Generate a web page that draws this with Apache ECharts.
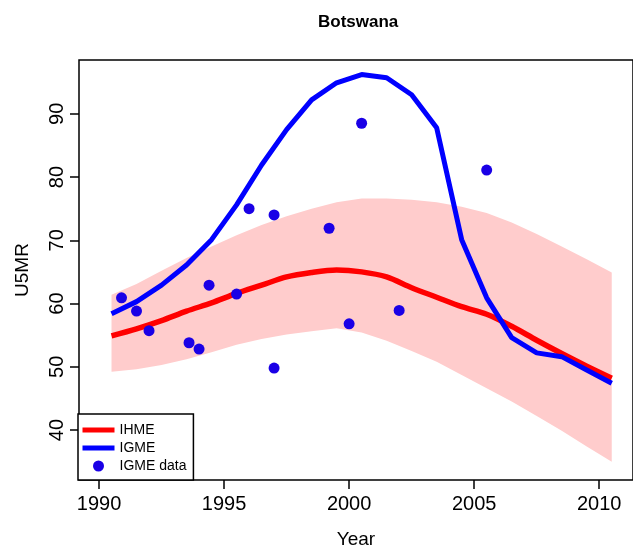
<!DOCTYPE html>
<html>
<head>
<meta charset="utf-8">
<script src="https://cdn.jsdelivr.net/npm/echarts@6/dist/echarts.min.js"></script>
<style>
  html, body { margin: 0; padding: 0; background: #fff; }
  #chart { width: 633px; height: 557px; }
</style>
</head>
<body>
<div id="chart"></div>
<script>
// yearly estimates (mid-year)
const years = [1990.5, 1991.5, 1992.5, 1993.5, 1994.5, 1995.5, 1996.5, 1997.5, 1998.5, 1999.5, 2000.5,
  2001.5, 2002.5, 2003.5, 2004.5, 2005.5, 2006.5, 2007.5, 2008.5, 2009.5, 2010.5];
const ihme = [54.9, 56.0, 57.3, 58.8, 60.1, 61.6, 62.9, 64.2, 64.9, 65.3, 65.0,
  64.2, 62.5, 61.0, 59.5, 58.3, 56.4, 54.2, 52.1, 50.1, 48.2];
const ihmeLower = [49.2, 49.6, 50.3, 51.2, 52.3, 53.5, 54.4, 55.1, 55.6, 56.1, 55.4,
  54.1, 52.5, 50.8, 48.7, 46.6, 44.5, 42.2, 39.9, 37.4, 35.0];
const ihmeUpper = [61.4, 63.1, 65.2, 67.2, 69.0, 70.8, 72.4, 73.8, 75.0, 76.0, 76.6,
  76.6, 76.4, 76.0, 75.3, 74.3, 72.8, 71.0, 69.0, 67.0, 64.9];
const igme = [58.4, 60.3, 62.9, 66.1, 70.1, 75.6, 81.9, 87.5, 92.2, 94.9, 96.2,
  95.7, 93.0, 87.8, 70.1, 60.9, 54.6, 52.2, 51.6, 49.5, 47.4];

// IGME survey data points
const dataYears = [1990.9, 1991.5, 1992.0, 1993.6, 1994.0, 1994.4, 1995.5, 1996.0, 1997.0, 1997.0,
  1999.2, 2000.0, 2000.5, 2002.0, 2005.5];
const dataValues = [60.9, 58.8, 55.7, 53.8, 52.8, 62.9, 61.5, 75.0, 74.0, 49.8,
  71.9, 56.8, 88.5, 58.9, 81.1];

const xTicks = [1990, 1995, 2000, 2005, 2010];
const yTicks = [40, 50, 60, 70, 80, 90];

const font = "'Liberation Sans', Arial, sans-serif";
const pair = (xs, ys) => xs.map((x, i) => [x, ys[i]]);

const chart = echarts.init(document.getElementById('chart'));
const option = {
  animation: false,
  title: {
    text: 'Botswana',
    left: 313,
    top: 9,
    textStyle: { fontFamily: font, fontWeight: 'bold', fontSize: 17, color: '#000' }
  },
  grid: {
    left: 79, top: 60, right: -3, bottom: 77,
    show: true, borderColor: '#000', borderWidth: 1.5, backgroundColor: 'transparent'
  },
  legend: {
    orient: 'vertical',
    left: 78, top: 414,
    data: [
      { name: 'IHME', itemStyle: { opacity: 0 } },
      { name: 'IGME', itemStyle: { opacity: 0 } },
      { name: 'IGME data', icon: 'circle' }
    ],
    itemWidth: 32, itemHeight: 11, itemGap: 4,
    padding: [9, 7, 7, 2],
    lineStyle: { width: 5 },
    backgroundColor: '#fff', borderColor: '#000', borderWidth: 1.5, borderRadius: 0,
    textStyle: { fontFamily: font, fontSize: 14, color: '#000' }
  },
  xAxis: {
    type: 'value',
    min: 1989.2, max: 2011.35,
    name: 'Year', nameLocation: 'middle', nameGap: 50,
    nameTextStyle: { fontFamily: font, fontSize: 19, color: '#000' },
    axisLine: { show: false },
    splitLine: { show: false },
    axisTick: { show: true, length: 9, customValues: xTicks, lineStyle: { color: '#000', width: 1.5 } },
    axisLabel: {
      customValues: xTicks, fontFamily: font, fontSize: 20, color: '#000', margin: 14,
      formatter: (v) => String(v)
    }
  },
  yAxis: {
    type: 'value',
    min: 32.1, max: 98.5,
    name: 'U5MR', nameLocation: 'middle', nameGap: 47, nameRotate: 90,
    nameTextStyle: { fontFamily: font, fontSize: 19, color: '#000' },
    axisLine: { show: false },
    splitLine: { show: false },
    axisTick: { show: true, length: 9, customValues: yTicks, lineStyle: { color: '#000', width: 1.5 } },
    axisLabel: { customValues: yTicks, rotate: 90, fontFamily: font, fontSize: 20, color: '#000', margin: 12 }
  },
  series: [
    {
      // uncertainty band between lower and upper bounds
      name: 'band', type: 'custom', silent: true, z: 1,
      data: [[years[0], ihmeLower[0]]],
      renderItem: function (params, api) {
        const top = years.map((x, i) => api.coord([x, ihmeUpper[i]]));
        const bottom = years.map((x, i) => api.coord([x, ihmeLower[i]])).reverse();
        return {
          type: 'polygon',
          shape: { points: top.concat(bottom) },
          style: { fill: '#ffcccc' }
        };
      }
    },
    {
      name: 'IHME', type: 'line', symbol: 'none', smooth: 0.3, z: 2,
      itemStyle: { color: '#ff0000' },
      lineStyle: { color: '#ff0000', width: 5.5 },
      data: pair(years, ihme)
    },
    {
      name: 'IGME', type: 'line', symbol: 'none', z: 3,
      itemStyle: { color: '#0000ff' },
      lineStyle: { color: '#0000ff', width: 5 },
      data: pair(years, igme)
    },
    {
      name: 'IGME data', type: 'scatter', symbol: 'circle', symbolSize: 11, z: 4,
      itemStyle: { color: '#1a00e6', opacity: 1 },
      data: pair(dataYears, dataValues)
    }
  ]
};
chart.setOption(option);
window.addEventListener('resize', function () {
  chart.resize();
});
</script>
</body>
</html>
